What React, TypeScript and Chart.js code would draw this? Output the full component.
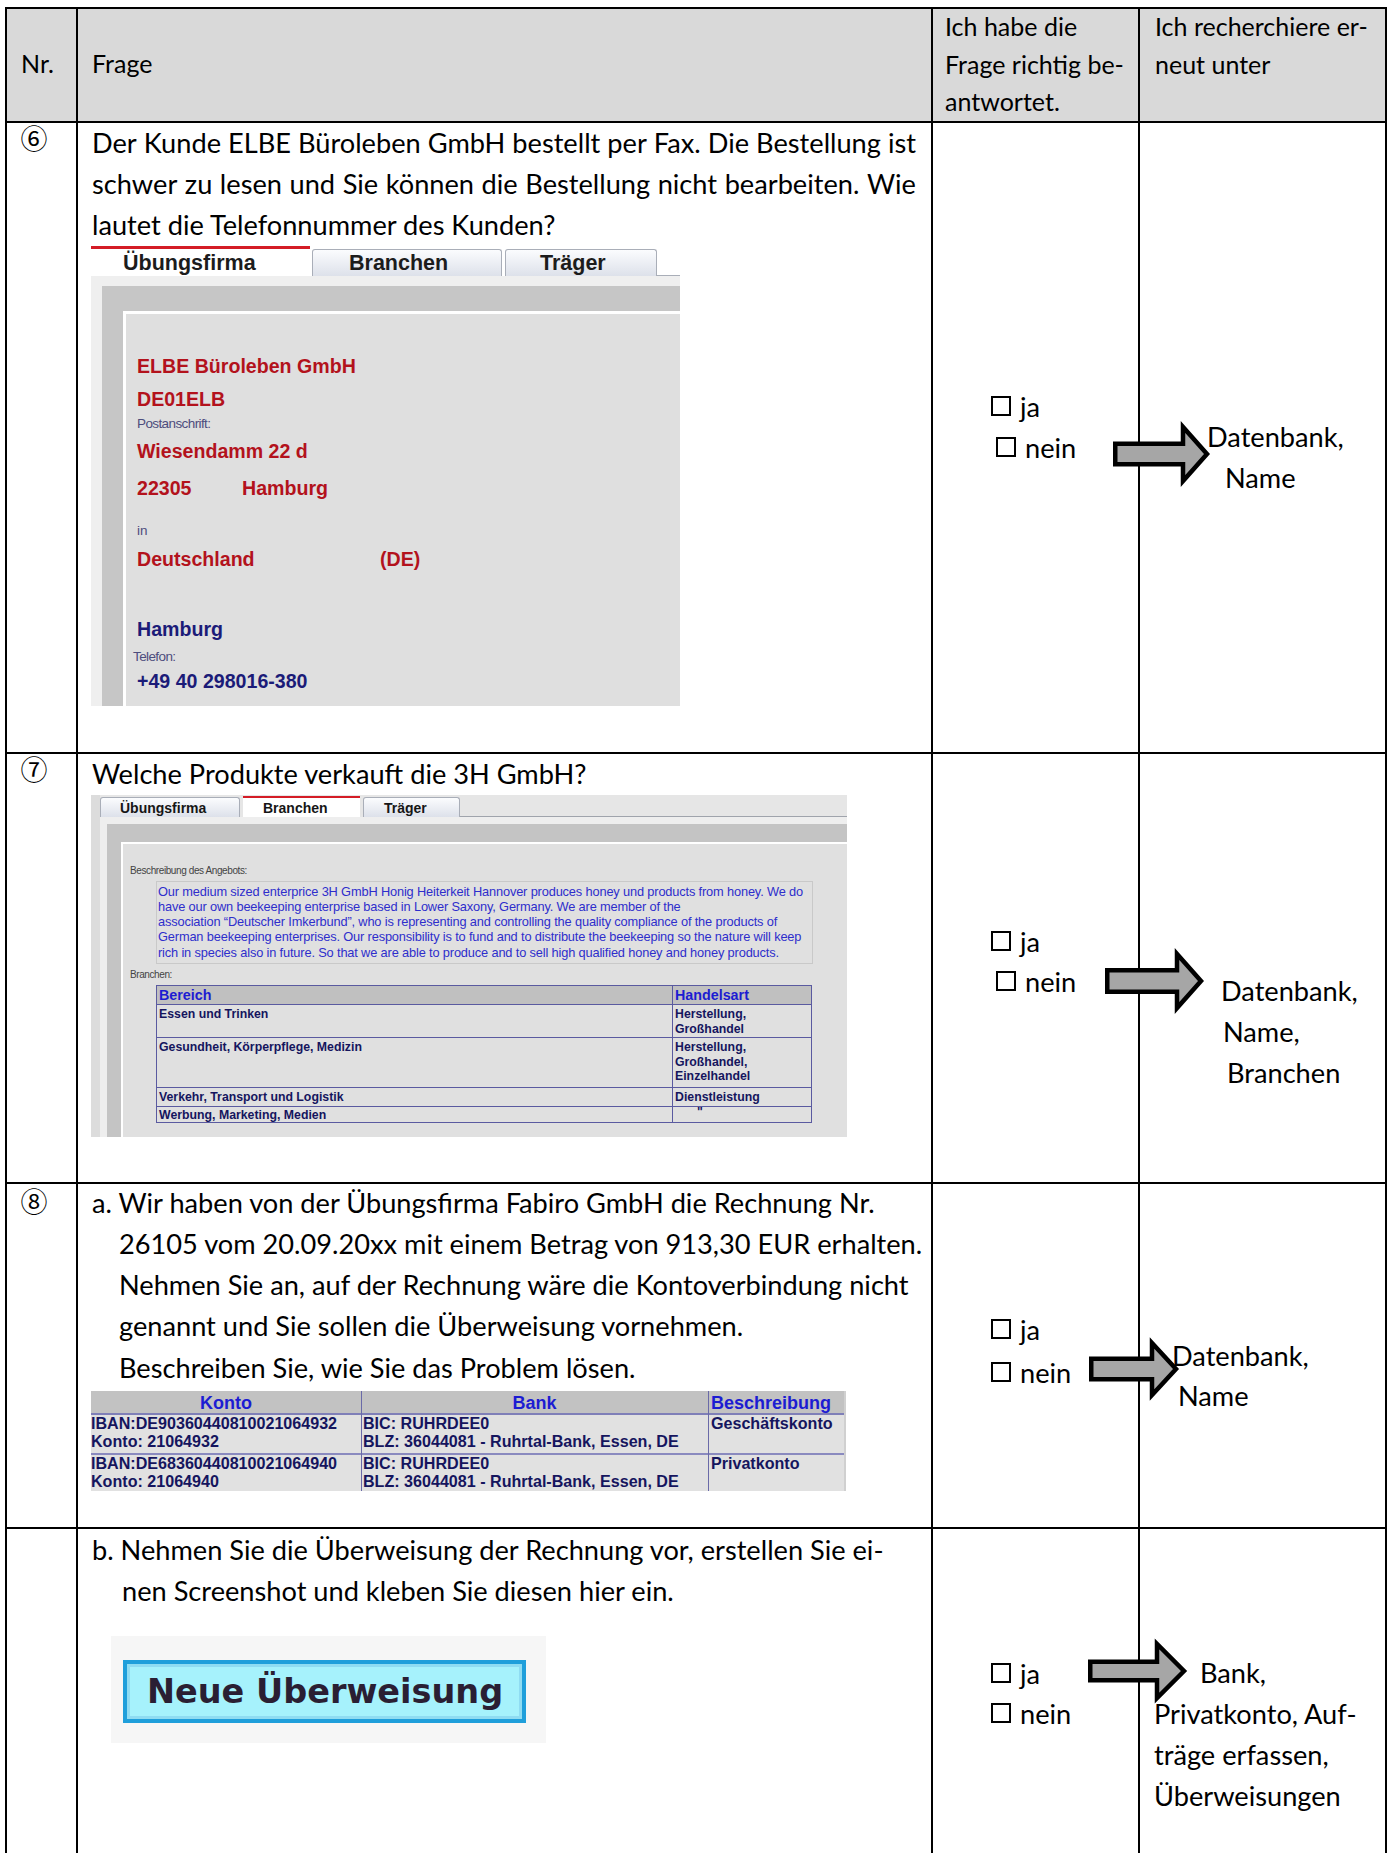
import React, { useEffect, useRef } from "react";
import { Chart, registerables } from "chart.js";

Chart.register(...registerables);

const PAGE_W = 1391;
const PAGE_H = 1853;

// ---------- text content ----------
const HEADER_NR = "Nr.";
const HEADER_FRAGE = "Frage";
const HEADER_COL3 = ["Ich habe die", "Frage richtig be-", "antwortet."];
const HEADER_COL4 = ["Ich recherchiere er-", "neut unter"];
const ROW_NUMBERS = ["⑥", "⑦", "⑧"];
const Q6_LINES = [
  "Der Kunde ELBE Büroleben GmbH bestellt per Fax. Die Bestellung ist",
  "schwer zu lesen und Sie können die Bestellung nicht bearbeiten. Wie",
  "lautet die Telefonnummer des Kunden?",
];
const Q7_LINES = ["Welche Produkte verkauft die 3H GmbH?"];
const Q8A_LINES = [
  "a. Wir haben von der Übungsfirma Fabiro GmbH die Rechnung Nr.",
  "26105 vom 20.09.20xx mit einem Betrag von 913,30 EUR erhalten.",
  "Nehmen Sie an, auf der Rechnung wäre die Kontoverbindung nicht",
  "genannt und Sie sollen die Überweisung vornehmen.",
  "Beschreiben Sie, wie Sie das Problem lösen.",
];
const Q8B_LINES = [
  "b. Nehmen Sie die Überweisung der Rechnung vor, erstellen Sie ei-",
  "nen Screenshot und kleben Sie diesen hier ein.",
];
const CHECK_LABELS = ["ja", "nein"];
const HINTS_6 = ["Datenbank,", "Name"];
const HINTS_7 = ["Datenbank,", "Name,", "Branchen"];
const HINTS_8A = ["Datenbank,", "Name"];
const HINTS_8B = ["Bank,", "Privatkonto, Auf-", "träge erfassen,", "Überweisungen"];

const TABS = ["Übungsfirma", "Branchen", "Träger"];
const FIRM_NAME = "ELBE Büroleben GmbH";
const FIRM_ID = "DE01ELB";
const FIRM_STREET = "Wiesendamm 22 d";
const FIRM_ZIP = "22305";
const FIRM_CITY = "Hamburg";
const FIRM_COUNTRY = "Deutschland";
const FIRM_COUNTRY_CODE = "(DE)";
const FIRM_REGISTER = "Hamburg";
const FIRM_PHONE = "+49 40 298016-380";
const FIRM_LABELS = ["Postanschrift:", "in", "Telefon:", "E-Mail:"];

const OFFER_LABEL = "Beschreibung des Angebots:";
const OFFER_LINES = [
  "Our medium sized enterprice 3H GmbH Honig Heiterkeit Hannover produces honey und products from honey. We do",
  "have our own beekeeping enterprise based in Lower Saxony, Germany. We are member of the",
  "association “Deutscher Imkerbund”, who is representing and controlling the quality compliance of the products of",
  "German beekeeping enterprises. Our responsibility is to fund and to distribute the beekeeping so the nature will keep",
  "rich in species also in future. So that we are able to produce and to sell high qualified honey and honey products.",
];
const BRANCH_LABEL = "Branchen:";
const BRANCH_HEAD = ["Bereich", "Handelsart"];
const BRANCH_AREAS = [
  "Essen und Trinken",
  "Gesundheit, Körperpflege, Medizin",
  "Verkehr, Transport und Logistik",
  "Werbung, Marketing, Medien",
];
const BRANCH_TRADES = [
  ["Herstellung,", "Großhandel"],
  ["Herstellung,", "Großhandel,", "Einzelhandel"],
  ["Dienstleistung"],
  ["\""],
];

const BANK_HEAD = ["Konto", "Bank", "Beschreibung"];
const BANK_IBAN = ["IBAN:DE90360440810021064932", "IBAN:DE68360440810021064940"];
const BANK_KONTO = ["Konto: 21064932", "Konto: 21064940"];
const BANK_BIC = ["BIC: RUHRDEE0", "BIC: RUHRDEE0"];
const BANK_BLZ = ["BLZ: 36044081 - Ruhrtal-Bank, Essen, DE", "BLZ: 36044081 - Ruhrtal-Bank, Essen, DE"];
const BANK_DESC = ["Geschäftskonto", "Privatkonto"];

const BUTTON_LABEL = "Neue Überweisung";

// arrow shapes (page pixel units), drawn through the chart's linear scales
const ARROWS = [
  { left: 1113, base: 1183, tip: 1211, cy: 454, bodyHalf: 12.5, headHalf: 30 },
  { left: 1105, base: 1177, tip: 1205, cy: 981, bodyHalf: 13, headHalf: 30 },
  { left: 1089, base: 1152, tip: 1180, cy: 1369, bodyHalf: 12.5, headHalf: 29 },
  { left: 1088, base: 1157, tip: 1188, cy: 1671, bodyHalf: 11.5, headHalf: 30 },
];

// ---------- fonts ----------
const BODY = "Lato, 'Open Sans', sans-serif";
const ARIAL = "'Liberation Sans', Arial, sans-serif";
const CJK = "'Noto Sans CJK JP', 'Noto Sans CJK SC', sans-serif";
const BODY_SIZE = 27.2;
const BODY_LH = 41;
const HEAD_SIZE = 25;
const HEAD_LH = 38;

type TP = {
  x: number;
  y: number;
  size: number;
  lh?: number;
  font?: string;
  color?: string;
  weight?: number;
  w?: number;
  align?: "left" | "center" | "right";
  children?: React.ReactNode;
  style?: React.CSSProperties;
};

function T({ x, y, size, lh, font = BODY, color = "#000", weight = 400, w, align, children, style }: TP) {
  const L = lh ?? Math.round(size * 1.3);
  return (
    <div
      style={{
        position: "absolute",
        left: x,
        top: y - L / 2,
        height: L,
        lineHeight: L + "px",
        fontSize: size,
        fontFamily: font,
        color,
        fontWeight: weight,
        whiteSpace: "pre",
        width: w,
        textAlign: align,
        ...style,
      }}
    >
      {children}
    </div>
  );
}

function J({ x, y, w, text }: { x: number; y: number; w: number; text: string }) {
  const words = text.split(" ");
  return (
    <div
      style={{
        position: "absolute",
        left: x,
        top: y - BODY_LH / 2,
        width: w,
        height: BODY_LH,
        lineHeight: BODY_LH + "px",
        fontSize: BODY_SIZE,
        fontFamily: BODY,
        display: "flex",
        justifyContent: "space-between",
        whiteSpace: "pre",
      }}
    >
      {words.map((wd, i) => (
        <span key={i}>{wd}</span>
      ))}
    </div>
  );
}

function R({ x, y, w, h, bg, style }: { x: number; y: number; w: number; h: number; bg?: string; style?: React.CSSProperties }) {
  return (
    <div
      style={{
        position: "absolute",
        left: x,
        top: y,
        width: w,
        height: h,
        background: bg,
        boxSizing: "border-box",
        ...style,
      }}
    />
  );
}

function Check({ bx, tx, y, label }: { bx: number; tx: number; y: number; label: string }) {
  return (
    <>
      <R x={bx} y={y - 10} w={20} h={20} style={{ border: "2.5px solid #000" }} />
      <T x={tx} y={y} size={BODY_SIZE} lh={BODY_LH}>
        {label}
      </T>
    </>
  );
}

const arrowPlugin = {
  id: "docArrows",
  afterDatasetsDraw(chart: any) {
    const { ctx, scales } = chart;
    const sx = scales.x;
    const sy = scales.y;
    ctx.save();
    ctx.lineWidth = 4.5;
    ctx.lineJoin = "miter";
    ctx.miterLimit = 10;
    ctx.strokeStyle = "#000";
    ctx.fillStyle = "#a6a6a6";
    const sw = 2.25;
    ARROWS.forEach((a) => {
      const L = sx.getPixelForValue(a.left + sw);
      const B = sx.getPixelForValue(a.base);
      const Tp = sx.getPixelForValue(a.tip - 4);
      const c = sy.getPixelForValue(a.cy);
      const bt = sy.getPixelForValue(a.cy - (a.bodyHalf - sw));
      const bb = sy.getPixelForValue(a.cy + (a.bodyHalf - sw));
      const ht = sy.getPixelForValue(a.cy - (a.headHalf - 3));
      const hb = sy.getPixelForValue(a.cy + (a.headHalf - 3));
      ctx.beginPath();
      ctx.moveTo(L, bt);
      ctx.lineTo(B, bt);
      ctx.lineTo(B, ht);
      ctx.lineTo(Tp, c);
      ctx.lineTo(B, hb);
      ctx.lineTo(B, bb);
      ctx.lineTo(L, bb);
      ctx.closePath();
      ctx.fill();
      ctx.stroke();
    });
    ctx.restore();
  },
};

function ArrowOverlay() {
  const ref = useRef<HTMLCanvasElement>(null);
  useEffect(() => {
    if (!ref.current) return;
    const chart = new Chart(ref.current, {
      type: "scatter",
      data: {
        datasets: [
          {
            data: ARROWS.map((a) => ({ x: a.tip, y: a.cy })),
            pointRadius: 0,
            showLine: false,
          },
        ],
      },
      options: {
        responsive: false,
        maintainAspectRatio: false,
        animation: false,
        events: [],
        devicePixelRatio: 1,
        layout: { padding: 0 },
        scales: {
          x: { type: "linear", min: 0, max: PAGE_W, display: false },
          y: { type: "linear", min: 0, max: PAGE_H, reverse: true, display: false },
        },
        plugins: { legend: { display: false }, tooltip: { enabled: false } },
      },
      plugins: [arrowPlugin],
    } as any);
    return () => chart.destroy();
  }, []);
  return (
    <canvas
      ref={ref}
      width={PAGE_W}
      height={PAGE_H}
      style={{ position: "absolute", left: 0, top: 0, width: PAGE_W, height: PAGE_H, pointerEvents: "none", zIndex: 5 }}
    />
  );
}

const RED = "#b3121c";
const NAVY = "#1b1b78";
const LABEL = "#4d4d7d";

function FirmScreenshot() {
  const fs = 19.6;
  return (
    <div style={{ position: "absolute", left: 91, top: 246, width: 589, height: 460, overflow: "hidden", background: "#fff" }}>
      <R x={0} y={30} w={589} h={430} bg="#efefef" />
      <R x={0} y={0} w={219} h={30} bg="#fff" style={{ borderTop: "3px solid #d41c26" }} />
      <R x={221} y={3} w={190} h={27} style={{ background: "linear-gradient(#fbfcfe,#dde1ea)", border: "1px solid #a9aeb8", borderBottom: "none", borderRadius: "3px 3px 0 0" }} />
      <R x={414} y={3} w={152} h={27} style={{ background: "linear-gradient(#fbfcfe,#dde1ea)", border: "1px solid #a9aeb8", borderBottom: "none", borderRadius: "3px 3px 0 0" }} />
      <R x={566} y={29} w={23} h={1} bg="#a9aeb8" />
      <T x={32} y={17} size={21.5} font={ARIAL} weight={700} color="#1c1c1c">{TABS[0]}</T>
      <T x={258} y={17} size={21.5} font={ARIAL} weight={700} color="#1c1c1c">{TABS[1]}</T>
      <T x={449} y={17} size={21.5} font={ARIAL} weight={700} color="#1c1c1c">{TABS[2]}</T>
      <R x={11} y={40} w={578} h={420} bg="#c6c6c6" />
      <R x={32} y={65} w={557} h={395} bg="#fff" />
      <R x={35} y={68} w={554} h={392} bg="#dfdfdf" />
      <T x={46} y={120} size={fs} font={ARIAL} weight={700} color={RED}>{FIRM_NAME}</T>
      <T x={46} y={153} size={fs} font={ARIAL} weight={700} color={RED}>{FIRM_ID}</T>
      <T x={46} y={178} size={13.5} font={ARIAL} color={LABEL} style={{ letterSpacing: -0.6 }}>{FIRM_LABELS[0]}</T>
      <T x={46} y={205} size={fs} font={ARIAL} weight={700} color={RED}>{FIRM_STREET}</T>
      <T x={46} y={242} size={fs} font={ARIAL} weight={700} color={RED}>{FIRM_ZIP}</T>
      <T x={151} y={242} size={fs} font={ARIAL} weight={700} color={RED}>{FIRM_CITY}</T>
      <T x={46} y={285} size={13.5} font={ARIAL} color={LABEL}>{FIRM_LABELS[1]}</T>
      <T x={46} y={313} size={fs} font={ARIAL} weight={700} color={RED}>{FIRM_COUNTRY}</T>
      <T x={289} y={313} size={fs} font={ARIAL} weight={700} color={RED}>{FIRM_COUNTRY_CODE}</T>
      <T x={46} y={383} size={fs} font={ARIAL} weight={700} color={NAVY}>{FIRM_REGISTER}</T>
      <T x={42} y={411} size={13.5} font={ARIAL} color={LABEL} style={{ letterSpacing: -0.6 }}>{FIRM_LABELS[2]}</T>
      <T x={46} y={435} size={fs} font={ARIAL} weight={700} color={NAVY}>{FIRM_PHONE}</T>
      <T x={42} y={466} size={14} font={ARIAL} weight={700} color={NAVY}>{FIRM_LABELS[3]}</T>
    </div>
  );
}

const OFFER_BLUE = "#2e2ecc";
const TABLE_NAVY = "#15155e";
const HEAD_BLUE = "#1c1cd2";

function BranchScreenshot() {
  const rowTops = [209, 242, 292, 311];
  const areaY = [219, 252, 302, 320];
  return (
    <div style={{ position: "absolute", left: 91, top: 795, width: 756, height: 342, overflow: "hidden", background: "#e6e6e6" }}>
      <R x={0} y={0} w={9} h={342} bg="#dcdcdc" />
      <R x={9} y={2} w={140} h={20} style={{ background: "linear-gradient(#fbfcfe,#dde1ea)", border: "1px solid #a9aeb8", borderBottom: "none", borderRadius: "3px 3px 0 0" }} />
      <R x={152} y={1} w={117} h={21} bg="#fff" style={{ borderTop: "2px solid #d41c26" }} />
      <R x={272} y={2} w={97} h={20} style={{ background: "linear-gradient(#fbfcfe,#dde1ea)", border: "1px solid #a9aeb8", borderBottom: "none", borderRadius: "3px 3px 0 0" }} />
      <R x={369} y={21} w={387} h={1} bg="#a0a4ac" />
      <T x={29} y={13} size={14} font={ARIAL} weight={700} color="#161616">{TABS[0]}</T>
      <T x={172} y={13} size={14} font={ARIAL} weight={700} color="#161616">{TABS[1]}</T>
      <T x={293} y={13} size={14} font={ARIAL} weight={700} color="#161616">{TABS[2]}</T>
      <R x={9} y={22} w={747} h={320} bg="#eeeeee" />
      <R x={16} y={29} w={740} h={313} bg="#c4c4c4" />
      <R x={30} y={47} w={726} h={295} bg="#fff" />
      <R x={32} y={49} w={724} h={293} bg="#e0e0e0" />
      <T x={39} y={75} size={10} font={ARIAL} color="#444" style={{ letterSpacing: -0.4 }}>{OFFER_LABEL}</T>
      <R x={65} y={86} w={657} h={83} style={{ border: "1px solid #c9c9c9" }} />
      {OFFER_LINES.map((ln, i) => (
        <T key={i} x={67} y={96 + i * 15.3} size={12.8} lh={15} font={ARIAL} color={OFFER_BLUE} style={{ letterSpacing: -0.15 }}>
          {ln}
        </T>
      ))}
      <T x={39} y={179} size={10} font={ARIAL} color="#444" style={{ letterSpacing: -0.4 }}>{BRANCH_LABEL}</T>
      <R x={65} y={190} w={656} h={19} bg="#c0c0c0" />
      <R x={65} y={190} w={656} h={138} style={{ border: "1.5px solid #5a5aa0" }} />
      {rowTops.map((t, i) => (
        <R key={i} x={65} y={t - 0.5} w={656} h={1.5} bg="#5a5aa0" />
      ))}
      <R x={580.5} y={190} w={1.5} h={138} bg="#5a5aa0" />
      <T x={68} y={200} size={14.3} font={ARIAL} weight={700} color={HEAD_BLUE}>{BRANCH_HEAD[0]}</T>
      <T x={584} y={200} size={14.3} font={ARIAL} weight={700} color={HEAD_BLUE}>{BRANCH_HEAD[1]}</T>
      {BRANCH_AREAS.map((a, i) => (
        <T key={i} x={68} y={areaY[i]} size={12.3} lh={14} font={ARIAL} weight={700} color={TABLE_NAVY}>
          {a}
        </T>
      ))}
      {BRANCH_TRADES.map((lines, i) =>
        lines.map((l, j) => (
          <T
            key={i + "-" + j}
            x={l === "\"" ? 606 : 584}
            y={areaY[i] + j * 14.7 - (l === "\"" ? 3 : 0)}
            size={12.3}
            lh={14}
            font={ARIAL}
            weight={700}
            color={TABLE_NAVY}
          >
            {l}
          </T>
        ))
      )}
    </div>
  );
}

function BankTable() {
  const rowCy = [
    [32, 50],
    [72, 90],
  ];
  const fs = 16.1;
  return (
    <div style={{ position: "absolute", left: 91, top: 1391, width: 755, height: 100, overflow: "hidden", background: "#e1e1e1" }}>
      <R x={0} y={0} w={755} h={23} bg="#c2c2c2" />
      <R x={0} y={22} w={755} h={2} bg="#7f7fb8" />
      <R x={0} y={62} w={755} h={2} bg="#8a8abf" />
      <R x={269.5} y={0} w={1.2} h={100} bg="#6a6aa8" />
      <R x={616.5} y={0} w={1.2} h={100} bg="#6a6aa8" />
      <R x={753} y={0} w={2} h={100} bg="#d0d0d0" />
      <T x={0} w={270} align="center" y={12} size={18} font={ARIAL} weight={700} color={HEAD_BLUE}>{BANK_HEAD[0]}</T>
      <T x={270} w={347} align="center" y={12} size={18} font={ARIAL} weight={700} color={HEAD_BLUE}>{BANK_HEAD[1]}</T>
      <T x={620} y={12} size={18} font={ARIAL} weight={700} color={HEAD_BLUE}>{BANK_HEAD[2]}</T>
      {[0, 1].map((i) => (
        <React.Fragment key={i}>
          <T x={0} y={rowCy[i][0]} size={fs} lh={18} font={ARIAL} weight={700} color={TABLE_NAVY}>{BANK_IBAN[i]}</T>
          <T x={0} y={rowCy[i][1]} size={fs} lh={18} font={ARIAL} weight={700} color={TABLE_NAVY}>{BANK_KONTO[i]}</T>
          <T x={272} y={rowCy[i][0]} size={fs} lh={18} font={ARIAL} weight={700} color={TABLE_NAVY}>{BANK_BIC[i]}</T>
          <T x={272} y={rowCy[i][1]} size={fs} lh={18} font={ARIAL} weight={700} color={TABLE_NAVY}>{BANK_BLZ[i]}</T>
          <T x={620} y={rowCy[i][0]} size={fs} lh={18} font={ARIAL} weight={700} color={TABLE_NAVY}>{BANK_DESC[i]}</T>
        </React.Fragment>
      ))}
    </div>
  );
}

function TransferButton() {
  return (
    <>
      <R x={111} y={1636} w={435} h={107} bg="#f6f6f6" />
      <R x={123} y={1660} w={403} h={63} bg="#a6f2fc" style={{ border: "4px solid #1f9fdb", boxShadow: "inset 0 0 0 3px #8fdcf2" }} />
      <T x={147} y={1692} size={33.5} lh={44} font="'DejaVu Sans', sans-serif" weight={700} color="#2a1f33">
        {BUTTON_LABEL}
      </T>
    </>
  );
}

function Grid() {
  const vx = [5, 76, 931, 1138, 1385];
  const hy = [7, 121, 752, 1182, 1527];
  return (
    <>
      <R x={6} y={8} w={1380} h={114} bg="#d9d9d9" />
      {vx.map((x, i) => (
        <R key={"v" + i} x={x} y={7} w={2} h={PAGE_H - 7} bg="#000" />
      ))}
      {hy.map((y, i) => (
        <R key={"h" + i} x={5} y={y} w={1382} h={2} bg="#000" />
      ))}
    </>
  );
}

export default function App() {
  return (
    <div
      style={{
        position: "absolute",
        left: 0,
        top: 0,
        width: PAGE_W,
        height: PAGE_H,
        overflow: "hidden",
        background: "#fff",
        color: "#000",
        fontFamily: BODY,
      }}
    >
      <Grid />
      {/* header */}
      <T x={21} y={63} size={HEAD_SIZE} lh={HEAD_LH}>{HEADER_NR}</T>
      <T x={92} y={63} size={HEAD_SIZE} lh={HEAD_LH}>{HEADER_FRAGE}</T>
      {HEADER_COL3.map((t, i) => (
        <T key={"h3" + i} x={945} y={26 + i * 37.7} size={HEAD_SIZE} lh={HEAD_LH}>{t}</T>
      ))}
      {HEADER_COL4.map((t, i) => (
        <T key={"h4" + i} x={1155} y={26 + i * 37.7} size={HEAD_SIZE} lh={HEAD_LH}>{t}</T>
      ))}

      {/* row numbers */}
      <T x={20} w={28} align="center" y={138} size={27} lh={34} font={CJK}>{ROW_NUMBERS[0]}</T>
      <T x={20} w={28} align="center" y={769} size={27} lh={34} font={CJK}>{ROW_NUMBERS[1]}</T>
      <T x={20} w={28} align="center" y={1201} size={27} lh={34} font={CJK}>{ROW_NUMBERS[2]}</T>

      {/* row 6 */}
      <J x={92} y={142} w={824} text={Q6_LINES[0]} />
      <J x={92} y={183.4} w={824} text={Q6_LINES[1]} />
      <T x={92} y={224.8} size={BODY_SIZE} lh={BODY_LH}>{Q6_LINES[2]}</T>
      <FirmScreenshot />
      <Check bx={991} tx={1020} y={406} label={CHECK_LABELS[0]} />
      <Check bx={996} tx={1025} y={447} label={CHECK_LABELS[1]} />
      {HINTS_6.map((t, i) => (
        <T key={"h6" + i} x={i === 0 ? 1207 : 1225} y={436 + i * 41} size={BODY_SIZE} lh={BODY_LH}>{t}</T>
      ))}

      {/* row 7 */}
      <T x={92} y={773} size={BODY_SIZE} lh={BODY_LH}>{Q7_LINES[0]}</T>
      <BranchScreenshot />
      <Check bx={991} tx={1020} y={941} label={CHECK_LABELS[0]} />
      <Check bx={996} tx={1025} y={981} label={CHECK_LABELS[1]} />
      {HINTS_7.map((t, i) => (
        <T key={"h7" + i} x={[1221, 1223, 1227][i]} y={990 + i * 41.3} size={BODY_SIZE} lh={BODY_LH}>{t}</T>
      ))}

      {/* row 8a */}
      {Q8A_LINES.map((t, i) => (
        <T key={"q8a" + i} x={i === 0 ? 92 : 119} y={1202 + i * 41.3} size={BODY_SIZE} lh={BODY_LH}>{t}</T>
      ))}
      <BankTable />
      <Check bx={991} tx={1020} y={1329} label={CHECK_LABELS[0]} />
      <Check bx={991} tx={1020} y={1372} label={CHECK_LABELS[1]} />
      {HINTS_8A.map((t, i) => (
        <T key={"h8a" + i} x={i === 0 ? 1172 : 1178} y={1355 + i * 40.5} size={BODY_SIZE} lh={BODY_LH}>{t}</T>
      ))}

      {/* row 8b */}
      <T x={92} y={1549} size={BODY_SIZE} lh={BODY_LH}>{Q8B_LINES[0]}</T>
      <T x={122} y={1590} size={BODY_SIZE} lh={BODY_LH}>{Q8B_LINES[1]}</T>
      <TransferButton />
      <Check bx={991} tx={1020} y={1673} label={CHECK_LABELS[0]} />
      <Check bx={991} tx={1020} y={1713} label={CHECK_LABELS[1]} />
      {HINTS_8B.map((t, i) => (
        <T key={"h8b" + i} x={i === 0 ? 1200 : 1154} y={1672 + i * 41} size={BODY_SIZE} lh={BODY_LH}>{t}</T>
      ))}

      <ArrowOverlay />
    </div>
  );
}
